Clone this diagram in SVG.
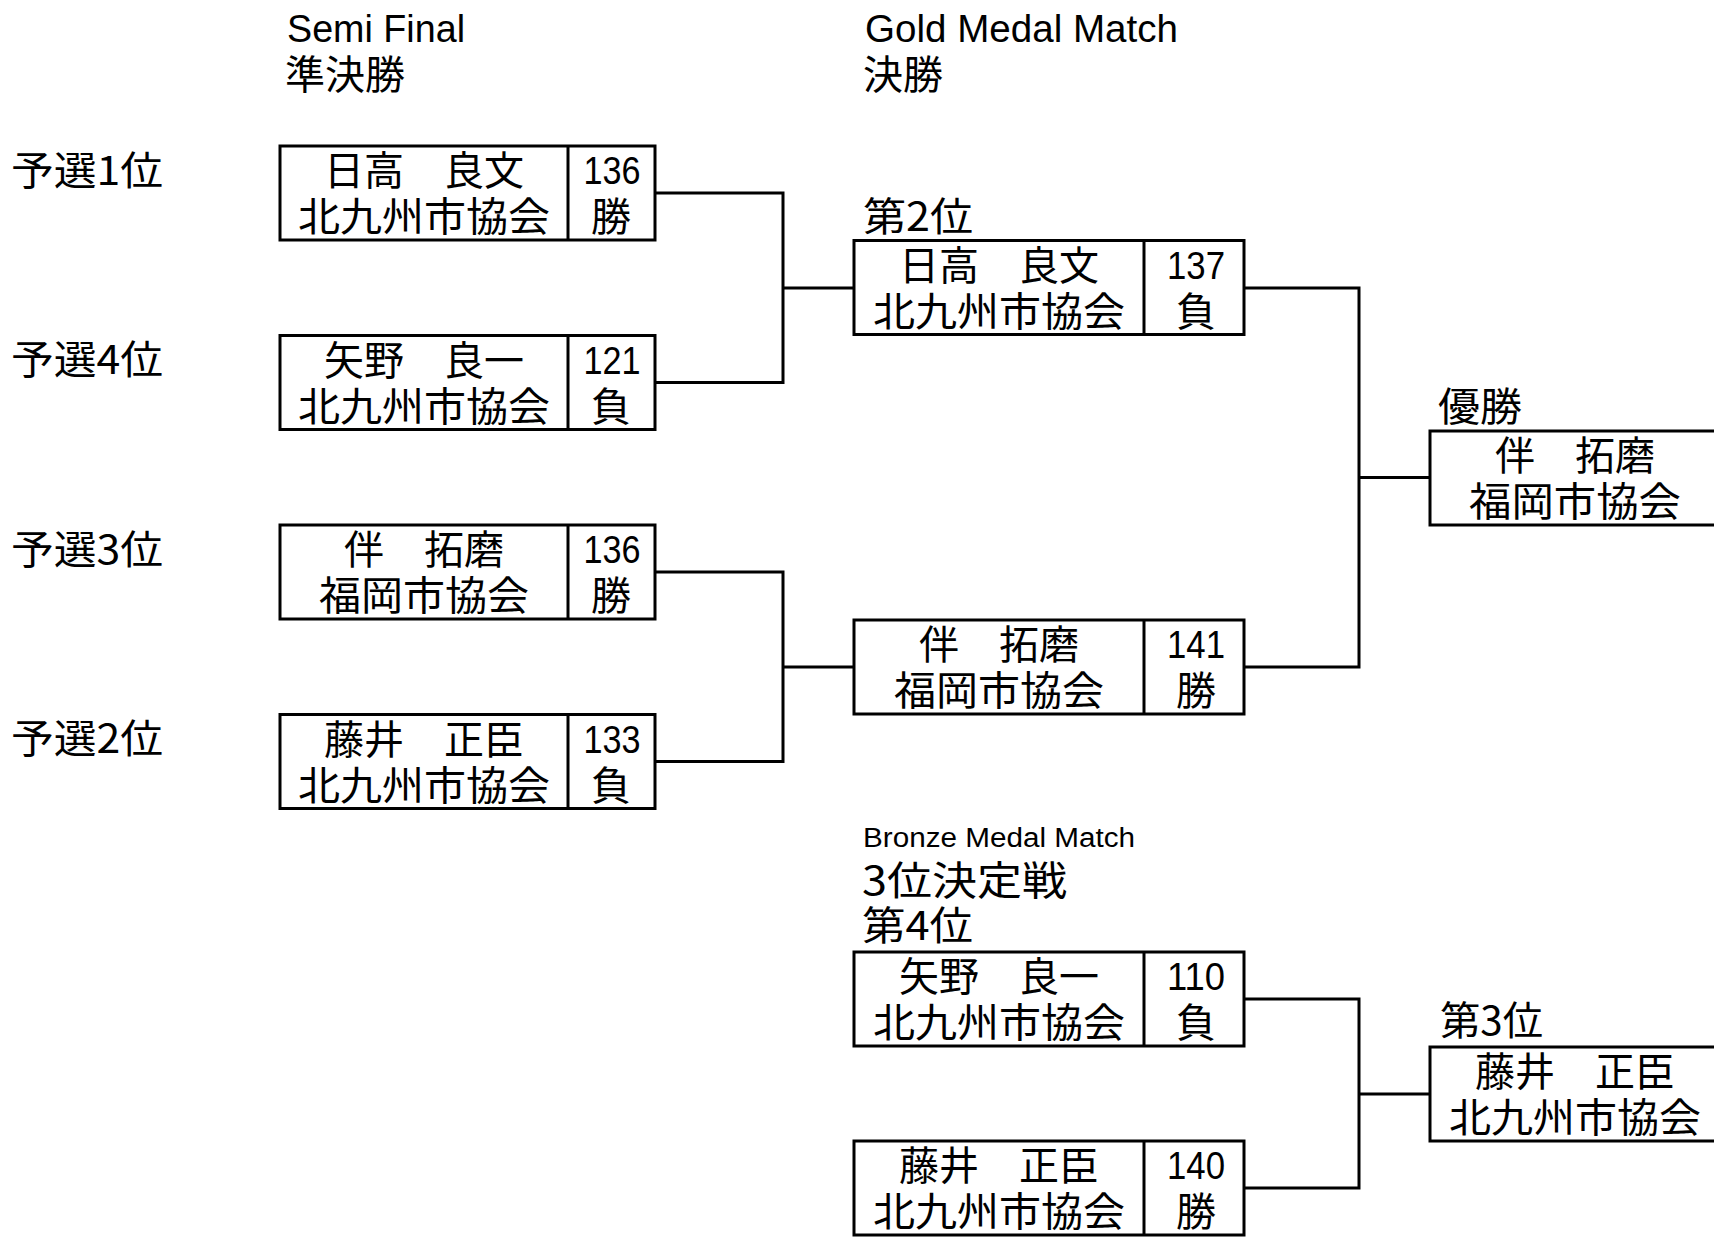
<svg xmlns="http://www.w3.org/2000/svg" width="1714" height="1237" viewBox="0 0 1714 1237">
<style>
.box{fill:#fff;stroke:#000;stroke-width:3}
.div{stroke:#000;stroke-width:3}
.con{fill:none;stroke:#000;stroke-width:3}
.jp{font-family:"Noto Sans CJK JP","Noto Sans CJK SC",sans-serif;font-size:40px;fill:#000}
.en{font-family:"Liberation Sans",Arial,sans-serif;font-size:38px;fill:#000}
.num{font-family:"Liberation Sans",Arial,sans-serif;font-size:39px;fill:#000;text-anchor:middle}
.c{text-anchor:middle}
</style>
<rect width="1714" height="1237" fill="#fff"/>
<g id="headers">
<text class="en" x="287" y="42" textLength="178" lengthAdjust="spacingAndGlyphs">Semi Final</text>
<text class="jp" x="285" y="89">準決勝</text>
<text class="en" x="865" y="42" textLength="313" lengthAdjust="spacingAndGlyphs">Gold Medal Match</text>
<text class="jp" x="863" y="89">決勝</text>
<text class="en" x="863" y="847" style="font-size:27px" textLength="272" lengthAdjust="spacingAndGlyphs">Bronze Medal Match</text>
<text class="jp" x="862" y="895" textLength="205" lengthAdjust="spacingAndGlyphs">3位決定戦</text>
</g>
<g id="seeds">
<text class="jp" x="11" y="185" textLength="152" lengthAdjust="spacingAndGlyphs">予選1位</text>
<text class="jp" x="11" y="374" textLength="152" lengthAdjust="spacingAndGlyphs">予選4位</text>
<text class="jp" x="11" y="564" textLength="152" lengthAdjust="spacingAndGlyphs">予選3位</text>
<text class="jp" x="11" y="753" textLength="152" lengthAdjust="spacingAndGlyphs">予選2位</text>
</g>
<g id="connectors">
<path class="con" d="M655,193 H783 V382.5 H655 M783,288 H854"/>
<path class="con" d="M655,572 H783 V761.5 H655 M783,667 H854"/>
<path class="con" d="M1244,288 H1359 V667 H1244 M1359,477.5 H1430"/>
<path class="con" d="M1244,999 H1359 V1188 H1244 M1359,1094 H1430"/>
</g>
<g id="semi1">
<rect class="box" x="280" y="146" width="375" height="94"/><line class="div" x1="568" y1="146" x2="568" y2="240"/>
<text class="jp c" x="424" y="185">日高　良文</text>
<text class="jp c" x="424" y="231" textLength="252" lengthAdjust="spacingAndGlyphs">北九州市協会</text>
<text class="num" x="612" y="184" textLength="57" lengthAdjust="spacingAndGlyphs">136</text><text class="jp c" x="611" y="231">勝</text>
</g>
<g id="semi2">
<rect class="box" x="280" y="335.5" width="375" height="94"/><line class="div" x1="568" y1="335.5" x2="568" y2="429.5"/>
<text class="jp c" x="424" y="374.5">矢野　良一</text>
<text class="jp c" x="424" y="420.5" textLength="252" lengthAdjust="spacingAndGlyphs">北九州市協会</text>
<text class="num" x="612" y="373.5" textLength="57" lengthAdjust="spacingAndGlyphs">121</text><text class="jp c" x="611" y="420.5">負</text>
</g>
<g id="semi3">
<rect class="box" x="280" y="525" width="375" height="94"/><line class="div" x1="568" y1="525" x2="568" y2="619"/>
<text class="jp c" x="424" y="564">伴　拓磨</text>
<text class="jp c" x="424" y="610" textLength="210" lengthAdjust="spacingAndGlyphs">福岡市協会</text>
<text class="num" x="612" y="563" textLength="57" lengthAdjust="spacingAndGlyphs">136</text><text class="jp c" x="611" y="610">勝</text>
</g>
<g id="semi4">
<rect class="box" x="280" y="714.5" width="375" height="94"/><line class="div" x1="568" y1="714.5" x2="568" y2="808.5"/>
<text class="jp c" x="424" y="753.5">藤井　正臣</text>
<text class="jp c" x="424" y="799.5" textLength="252" lengthAdjust="spacingAndGlyphs">北九州市協会</text>
<text class="num" x="612" y="752.5" textLength="57" lengthAdjust="spacingAndGlyphs">133</text><text class="jp c" x="611" y="799.5">負</text>
</g>
<g id="gold1">
<text class="jp" x="863" y="231" textLength="110" lengthAdjust="spacingAndGlyphs">第2位</text>
<rect class="box" x="854" y="240.5" width="390" height="94"/><line class="div" x1="1144" y1="240.5" x2="1144" y2="334.5"/>
<text class="jp c" x="999" y="279.5">日高　良文</text>
<text class="jp c" x="999" y="325.5" textLength="252" lengthAdjust="spacingAndGlyphs">北九州市協会</text>
<text class="num" x="1196" y="278.5" textLength="58" lengthAdjust="spacingAndGlyphs">137</text><text class="jp c" x="1196" y="325.5">負</text>
</g>
<g id="gold2">
<rect class="box" x="854" y="620" width="390" height="94"/><line class="div" x1="1144" y1="620" x2="1144" y2="714"/>
<text class="jp c" x="999" y="659">伴　拓磨</text>
<text class="jp c" x="999" y="705" textLength="210" lengthAdjust="spacingAndGlyphs">福岡市協会</text>
<text class="num" x="1196" y="658" textLength="58" lengthAdjust="spacingAndGlyphs">141</text><text class="jp c" x="1196" y="705">勝</text>
</g>
<g id="champion">
<text class="jp" x="1438" y="421" textLength="84" lengthAdjust="spacingAndGlyphs">優勝</text>
<rect class="box" x="1430" y="431" width="290" height="94"/>
<text class="jp c" x="1575" y="470">伴　拓磨</text>
<text class="jp c" x="1575" y="516" textLength="212" lengthAdjust="spacingAndGlyphs">福岡市協会</text>
</g>
<g id="bronze1">
<text class="jp" x="862" y="940" textLength="111" lengthAdjust="spacingAndGlyphs">第4位</text>
<rect class="box" x="854" y="952" width="390" height="94"/><line class="div" x1="1144" y1="952" x2="1144" y2="1046"/>
<text class="jp c" x="999" y="991">矢野　良一</text>
<text class="jp c" x="999" y="1037" textLength="252" lengthAdjust="spacingAndGlyphs">北九州市協会</text>
<text class="num" x="1196" y="990" textLength="58" lengthAdjust="spacingAndGlyphs">110</text><text class="jp c" x="1196" y="1037">負</text>
</g>
<g id="bronze2">
<rect class="box" x="854" y="1141" width="390" height="94"/><line class="div" x1="1144" y1="1141" x2="1144" y2="1235"/>
<text class="jp c" x="999" y="1180">藤井　正臣</text>
<text class="jp c" x="999" y="1226" textLength="252" lengthAdjust="spacingAndGlyphs">北九州市協会</text>
<text class="num" x="1196" y="1179" textLength="58" lengthAdjust="spacingAndGlyphs">140</text><text class="jp c" x="1196" y="1226">勝</text>
</g>
<g id="third">
<text class="jp" x="1440" y="1035" textLength="103" lengthAdjust="spacingAndGlyphs">第3位</text>
<rect class="box" x="1430" y="1047" width="290" height="94"/>
<text class="jp c" x="1575" y="1086">藤井　正臣</text>
<text class="jp c" x="1575" y="1132" textLength="252" lengthAdjust="spacingAndGlyphs">北九州市協会</text>
</g>
</svg>
